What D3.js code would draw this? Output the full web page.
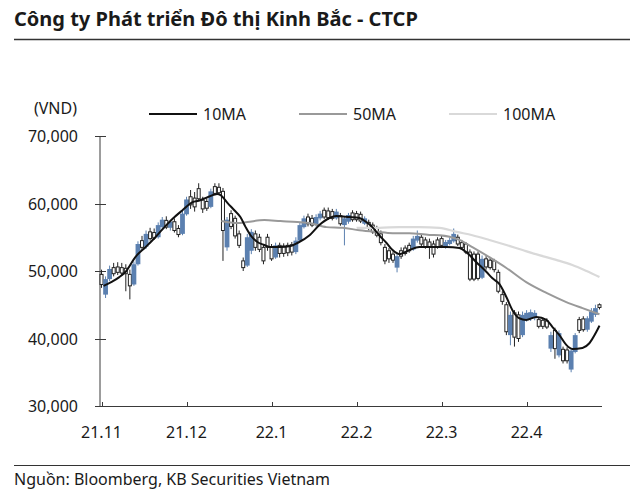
<!DOCTYPE html>
<html><head><meta charset="utf-8">
<script src="https://cdn.jsdelivr.net/npm/d3@7"></script>
<style>
html,body{margin:0;padding:0;background:#fff;}
svg{display:block;font-family:"Noto Sans",sans-serif;}
</style></head>
<body><svg id="c" width="640" height="496"></svg>
<script>
// Prices in thousand VND, one candle per trading day
const open  = [49.5,46.5,48.8,50.5,50.6,50.5,50.4,49.5,48.0,51.0,54.5,53.6,55.8,55.7,55.0,56.5,57.5,56.4,57.3,56.3,55.5,58.4,61.0,60.8,62.2,60.5,60.3,59.5,62.5,62.4,61.8,53.5,58.5,57.8,55.5,51.5,50.8,53.0,55.5,55.0,53.5,55.0,53.5,52.0,53.8,53.7,53.8,53.9,52.8,54.5,56.5,58.0,57.8,56.8,57.8,59.0,58.9,58.8,57.8,58.2,56.8,57.3,58.6,58.5,58.4,57.0,57.2,56.8,56.3,55.5,53.5,53.0,52.5,50.5,53.0,53.4,53.8,53.2,54.5,55.0,54.6,54.3,54.0,54.6,54.8,53.6,54.0,54.4,55.0,54.2,54.0,52.8,52.5,52.5,49.0,51.8,51.6,51.5,49.8,46.5,45.0,40.5,43.8,43.5,40.5,42.8,42.9,43.0,42.8,42.7,42.6,38.5,41.2,37.5,38.4,38.3,35.4,38.0,42.8,42.9,41.3,42.5,43.5,45.0];
const high  = [50.2,49.2,50.8,51.2,51.3,51.2,51.0,50.2,51.4,54.4,55.2,56.0,56.4,56.3,57.2,58.0,58.1,57.6,57.8,56.8,59.0,61.0,62.0,61.7,63.0,61.0,60.8,62.2,63.0,63.0,62.3,58.0,59.0,58.2,56.0,52.0,55.5,56.2,56.0,55.5,54.0,55.5,54.0,54.2,54.2,54.1,54.2,54.3,55.0,57.2,58.2,58.5,58.3,58.4,58.9,59.4,59.4,59.2,59.2,58.6,58.0,58.6,59.0,58.9,58.8,58.1,57.6,57.2,56.7,56.0,54.0,53.4,52.9,52.6,53.5,53.8,54.2,55.2,56.0,55.4,55.0,54.8,54.5,55.0,55.2,54.6,55.0,56.3,55.4,54.6,54.3,53.2,52.9,52.9,52.3,52.2,52.0,51.8,50.2,47.0,45.4,44.0,44.2,44.0,44.0,44.2,44.3,44.2,43.2,43.1,43.0,41.0,41.6,41.2,38.8,38.7,38.6,40.8,43.2,43.3,43.3,44.5,45.0,45.2];
const low   = [47.5,46.0,48.5,49.2,49.4,49.3,47.0,45.8,47.8,50.8,53.0,53.3,54.5,54.6,54.8,56.2,56.2,56.0,55.7,55.0,55.3,58.2,59.2,58.8,60.5,58.6,58.9,59.3,61.2,61.3,51.5,53.0,56.2,54.8,53.4,50.0,50.6,52.5,53.0,52.8,51.0,53.0,51.5,51.8,52.0,52.1,52.2,52.3,52.5,54.3,56.3,56.6,56.5,56.6,57.5,57.7,57.6,57.5,57.6,56.7,53.8,57.0,57.3,57.3,57.1,56.8,56.0,55.5,55.0,53.8,51.0,51.2,51.2,49.8,51.8,52.3,52.7,53.0,54.2,53.7,53.3,51.8,52.0,53.3,53.4,53.3,53.8,54.2,53.7,53.2,52.5,48.5,48.5,48.6,48.8,50.2,50.2,49.8,46.7,45.0,40.5,39.0,38.8,39.5,40.2,42.5,42.6,42.7,41.5,41.4,41.4,38.0,37.0,37.2,36.3,36.3,35.0,37.8,40.8,41.0,41.0,42.3,43.2,44.3];
const close = [48.0,48.8,50.3,49.6,49.8,49.7,49.6,47.8,51.0,54.0,53.5,55.5,54.8,54.9,56.8,57.6,56.5,57.3,56.0,55.4,58.5,60.6,59.8,59.5,60.7,59.2,59.3,61.8,61.5,61.6,56.0,57.6,56.6,55.2,53.8,50.5,55.0,55.8,53.5,53.2,51.5,53.5,51.8,53.8,52.6,52.6,52.7,52.8,54.5,56.8,57.8,57.0,56.8,58.0,58.5,58.0,57.9,57.8,58.8,57.0,57.8,58.3,57.6,57.6,57.4,57.8,56.3,55.8,55.3,54.2,51.5,51.8,51.6,52.2,52.2,52.6,53.0,54.8,55.2,54.0,53.6,53.5,52.5,53.6,53.8,54.3,54.6,55.5,54.0,53.5,52.8,48.8,48.8,48.9,51.8,50.6,50.5,50.2,47.0,45.5,41.0,43.5,40.2,40.0,43.5,43.8,43.9,43.8,41.8,41.8,41.7,40.5,38.5,40.8,36.7,36.7,38.2,40.5,41.2,41.3,43.0,44.0,44.5,44.6];

// Moving averages: [candle index, value]
const ma10 = [[0.5,47.8],[2.5,48.4],[4.4,49.1],[5.9,49.85],[8.4,52.1],[10.9,53.55],[13.3,55.0],[15.1,56.2],[17.5,57.7],[20,59.0],[22.5,60.2],[24,60.4],[26.2,60.95],[28.6,61.4],[29.4,61.25],[31.1,60.1],[32.8,59.0],[34.3,58.0],[35.6,56.5],[36.8,55.3],[38.5,54.3],[40.2,53.85],[41.7,53.55],[44.2,53.55],[46.7,53.7],[48.4,54.15],[51.4,55.3],[53.8,56.8],[56.3,57.85],[58,58.15],[61.2,58.0],[63.7,57.85],[65.4,57.25],[66.9,56.5],[68.6,55.3],[70.4,54.15],[71.9,53.1],[73.6,52.5],[76,53.1],[78.5,53.55],[81.7,53.55],[85.2,53.55],[88.4,53.4],[90.1,52.8],[92.6,51.3],[95.1,49.85],[96.5,48.95],[98.3,48.05],[100,46.15],[101.5,44.2],[103.2,43.0],[104.9,42.75],[107.4,43.2],[109.9,42.75],[111.4,41.7],[113.1,40.5],[114.8,39.05],[116.3,38.45],[118.8,38.6],[120.5,39.3],[122.2,40.95],[123,41.9]];
const ma50 = [[29.6,57.4],[33.6,57.1],[36,57.25],[40.2,57.55],[44.2,57.4],[48.4,57.25],[51.4,57.1],[55.6,56.5],[59.5,56.4],[63.7,56.05],[67.9,55.8],[71.9,55.6],[76,55.6],[81,55.35],[83.5,55.3],[88.4,54.6],[91.6,53.55],[95.8,52.05],[100,50.45],[104.9,48.35],[109.9,46.75],[114.8,45.4],[118.8,44.5],[123,43.6]];
const ma100 = [[63,56.4],[68.6,56.4],[73.6,56.5],[78.5,56.5],[83.5,56.4],[87.7,55.8],[91.6,55.3],[95.8,54.6],[100,53.85],[104,53.1],[108.1,52.35],[112.3,51.65],[116.3,50.9],[119.8,50.0],[123,49.1]];

const xTickIndex = [0,21,42,63,84,105];
const xTickLabels = ["21.11","21.12","22.1","22.2","22.3","22.4"];
const yTicks = [30,40,50,60,70];
const legendNames = ["10MA","50MA","100MA"];

const svg = d3.select("#c");
const n = close.length;
const x = d3.scaleLinear().domain([-0.5, n - 0.5]).range([99.5, 601.5]);
const y = d3.scaleLinear().domain([30, 70]).range([406, 136]);
const fmt = d3.format(",");
const axisColor = "#3a3a3a";
const blue = "#5b80b0";
const txt = "#1a1a1a";
const fs = 16;

// title
svg.append("text").attr("x",14).attr("y",26).attr("font-size",20).attr("font-weight","bold").attr("fill",txt).text("Công ty Phát triển Đô thị Kinh Bắc - CTCP");
svg.append("line").attr("x1",14).attr("x2",630).attr("y1",39.5).attr("y2",39.5).attr("stroke","#333").attr("stroke-width",1.5);

// y axis
svg.append("text").attr("x",77).attr("y",114).attr("text-anchor","end").attr("font-size",fs).attr("fill",txt).text("(VND)");
const gy = svg.append("g");
gy.append("line").attr("x1",100).attr("x2",100).attr("y1",y(70)).attr("y2",y(30)).attr("stroke",axisColor);
yTicks.forEach(t => {
  gy.append("line").attr("x1",95).attr("x2",106).attr("y1",Math.round(y(t))+0.5).attr("y2",Math.round(y(t))+0.5).attr("stroke",axisColor);
  gy.append("text").attr("x",78).attr("y",y(t)+6).attr("text-anchor","end").attr("font-size",fs).attr("fill",txt).text(fmt(t*1000));
});
// x axis
const gx = svg.append("g");
gx.append("line").attr("x1",95).attr("x2",602).attr("y1",406.5).attr("y2",406.5).attr("stroke",axisColor);
xTickIndex.forEach((t,i) => {
  const px = Math.round(x(t))+0.5;
  gx.append("line").attr("x1",px).attr("x2",px).attr("y1",402).attr("y2",406).attr("stroke",axisColor);
  gx.append("text").attr("x",x(t)).attr("y",438).attr("text-anchor","middle").attr("font-size",fs).attr("fill",txt).text(xTickLabels[i]);
});

// candles
const data = d3.range(n).map(i => ({i, o:open[i], h:high[i], l:low[i], c:close[i]}));
const gc = svg.append("g");
data.forEach(d => {
  const cx = x(d.i);
  const up = d.c >= d.o;
  if (up) {
    gc.append("line").attr("x1",cx).attr("x2",cx).attr("y1",y(d.h)).attr("y2",y(d.l)).attr("stroke",blue).attr("stroke-width",1);
    gc.append("rect").attr("x",cx-2.4).attr("width",4.8).attr("y",y(d.c)).attr("height",Math.max(1,y(d.o)-y(d.c))).attr("fill",blue);
  } else {
    gc.append("line").attr("x1",cx).attr("x2",cx).attr("y1",y(d.h)).attr("y2",y(d.l)).attr("stroke","#222").attr("stroke-width",1);
    gc.append("rect").attr("x",cx-1.5).attr("width",3).attr("y",y(d.o)).attr("height",Math.max(1,y(d.c)-y(d.o))).attr("fill","#fff").attr("stroke","#222").attr("stroke-width",1);
  }
});

// moving averages
const line = d3.line().x(d => x(d[0])).y(d => y(d[1])).curve(d3.curveMonotoneX);
svg.append("path").datum(ma100).attr("d",line).attr("fill","none").attr("stroke","#d9d9d9").attr("stroke-width",2.2);
svg.append("path").datum(ma50).attr("d",line).attr("fill","none").attr("stroke","#999999").attr("stroke-width",2);
svg.append("path").datum(ma10).attr("d",line).attr("fill","none").attr("stroke","#111").attr("stroke-width",2);

// legend
const legColors = ["#111","#999999","#d9d9d9"];
const legX = [149,299,449];
legendNames.forEach((nm,i) => {
  svg.append("line").attr("x1",legX[i]).attr("x2",legX[i]+48).attr("y1",114).attr("y2",114).attr("stroke",legColors[i]).attr("stroke-width",2.2);
  svg.append("text").attr("x",legX[i]+54).attr("y",120).attr("font-size",fs).attr("fill",txt).text(nm);
});

// footer
svg.append("line").attr("x1",14).attr("x2",630).attr("y1",465.5).attr("y2",465.5).attr("stroke","#333").attr("stroke-width",1);
svg.append("text").attr("x",14).attr("y",485).attr("font-size",fs).attr("fill",txt).text("Nguồn: Bloomberg, KB Securities Vietnam");
</script></body></html>
